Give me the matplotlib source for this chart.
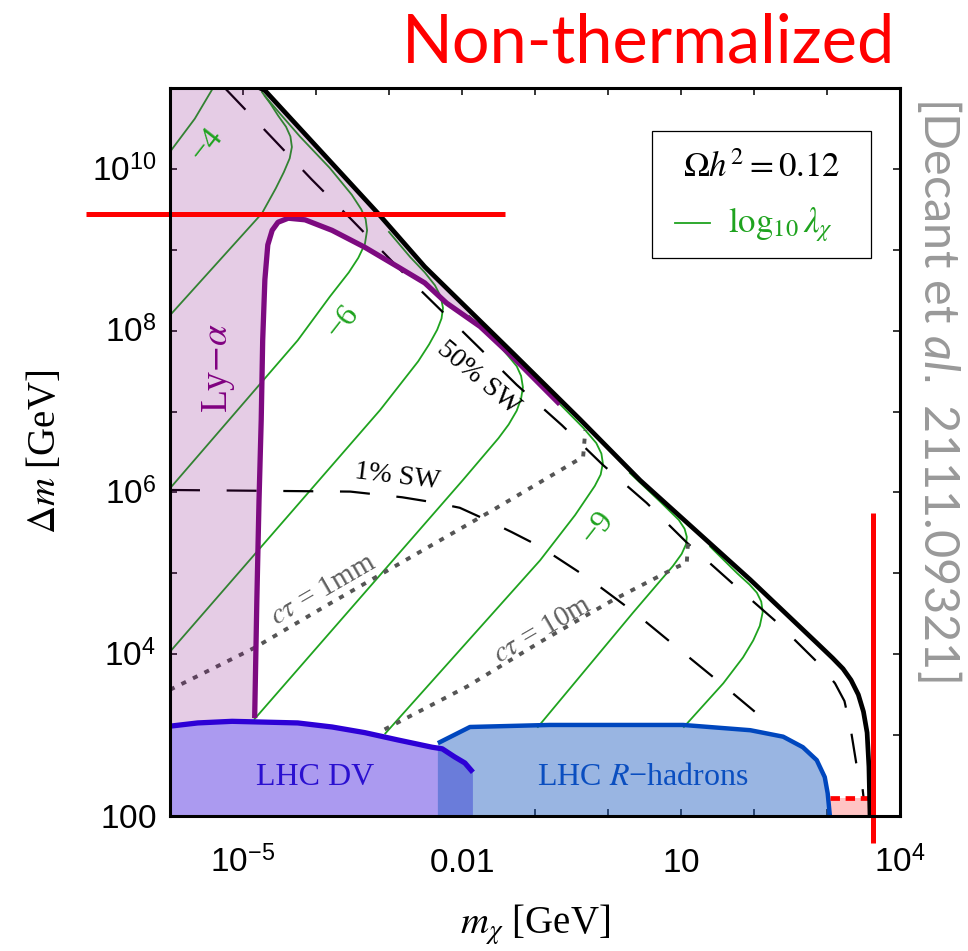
import numpy as np
import matplotlib
matplotlib.use("Agg")
import matplotlib.pyplot as plt
import matplotlib.transforms as mtransforms
from matplotlib.patches import Rectangle
from matplotlib.lines import Line2D

plt.rcParams["font.family"] = ["Liberation Serif", "DejaVu Serif"]
plt.rcParams["mathtext.fontset"] = "custom"
plt.rcParams["mathtext.rm"] = "Liberation Sans"
plt.rcParams["mathtext.sf"] = "Liberation Sans"
plt.rcParams["mathtext.it"] = "Lato:italic"
plt.rcParams["mathtext.bf"] = "Liberation Sans:bold"

# all curves as (log10 m_chi/GeV, log10 Delta m/GeV)
relic = [(-4.77, 11.0), (-4.70, 10.97), (-3.15, 9.45), (-2.51, 8.79), (-1.30, 7.72),
         (-0.38, 6.90), (0.44, 6.15), (1.95, 4.92), (2.86, 4.14), (3.08, 3.95),
         (3.22, 3.82), (3.33, 3.68), (3.43, 3.50), (3.50, 3.29), (3.55, 3.03),
         (3.575, 2.61), (3.59, 2.0)]

sw50 = [(-5.25, 11.0), (-4.88, 10.65), (-4.06, 9.87), (-3.51, 9.37), (-2.67, 8.59),
        (-1.80, 7.82), (-1.25, 7.33), (-0.63, 6.83), (-0.07, 6.34), (0.53, 5.87),
        (1.08, 5.38), (1.70, 4.88), (2.32, 4.39), (2.88, 3.89), (3.11, 3.64),
        (3.24, 3.42), (3.33, 3.05), (3.40, 2.66), (3.48, 2.40), (3.53, 2.0)]

sw1 = [(-6.0, 6.03), (-3.53, 6.01), (-2.82, 5.94), (-2.41, 5.88), (-2.03, 5.81),
       (-1.64, 5.65), (-1.32, 5.51), (-0.93, 5.33), (-0.27, 4.94), (0.37, 4.51),
       (0.99, 4.05), (1.60, 3.60), (2.01, 3.29)]

ctau_1mm = [(-6.0, 3.56), (-4.84, 4.08), (-3.84, 4.61), (-1.58, 5.78), (-0.34, 6.44), (-0.31, 6.77)]
ctau_10m = [(-3.06, 3.07), (-1.93, 3.60), (-0.93, 4.15), (0.07, 4.67), (0.95, 5.08), (1.08, 5.13), (1.10, 5.45)]

lya = [(-4.84, 3.21), (-4.81, 4.67), (-4.78, 5.91), (-4.75, 6.90), (-4.73, 7.88),
       (-4.70, 8.63), (-4.66, 9.06), (-4.60, 9.24), (-4.52, 9.34), (-4.38, 9.39),
       (-4.15, 9.37), (-3.78, 9.24), (-3.33, 9.03), (-2.88, 8.79), (-2.51, 8.59),
       (-2.21, 8.34), (-1.75, 8.05), (-1.30, 7.67), (-0.66, 7.09)]

lhc_dv = [(-6.0, 3.11), (-5.62, 3.15), (-5.15, 3.17), (-4.70, 3.16), (-4.25, 3.15),
          (-3.78, 3.10), (-3.33, 3.03), (-2.88, 2.94), (-2.41, 2.85), (-2.27, 2.83),
          (-2.10, 2.73), (-1.96, 2.655), (-1.85, 2.54)]

lhc_rh = [(-2.33, 2.90), (-1.89, 3.10), (-0.80, 3.125), (1.03, 3.125), (1.95, 3.06),
          (2.40, 2.98), (2.67, 2.85), (2.86, 2.69), (2.97, 2.48), (3.01, 2.28), (3.04, 2.0)]

# log10 lambda_chi contours
lam_m4 = [(-6.0, 10.21), (-5.66, 10.62), (-5.41, 11.0)]
lam_m5 = [(-6.0, 8.19), (-4.74, 9.45), (-4.55, 9.76), (-4.44, 9.96), (-4.36, 10.13),
          (-4.33, 10.27), (-4.35, 10.40), (-4.41, 10.52), (-4.52, 10.66), (-4.62, 10.80),
          (-4.74, 10.95)]
lam_m6 = [(-6.0, 6.05), (-4.25, 7.88), (-3.81, 8.42), (-3.55, 8.72), (-3.42, 8.90),
          (-3.33, 9.07), (-3.30, 9.24), (-3.32, 9.38), (-3.38, 9.50), (-3.51, 9.68),
          (-3.81, 10.01), (-4.22, 10.40), (-4.49, 10.68), (-4.70, 10.90)]
lam_m7 = [(-6.0, 4.03), (-3.12, 7.02), (-2.60, 7.62), (-2.45, 7.83), (-2.34, 8.01),
          (-2.28, 8.15), (-2.26, 8.28), (-2.29, 8.42), (-2.37, 8.56), (-2.51, 8.72),
          (-2.71, 8.91), (-3.0, 9.22)]
lam_m8 = [(-4.84, 3.20), (-1.99, 6.15), (-1.50, 6.67), (-1.36, 6.84), (-1.25, 7.01),
          (-1.19, 7.16), (-1.165, 7.30), (-1.19, 7.44), (-1.25, 7.56), (-1.36, 7.68),
          (-1.55, 7.88), (-1.90, 8.18)]
lam_m9 = [(-3.05, 3.02), (-0.93, 5.16), (-0.45, 5.72), (-0.30, 5.92), (-0.18, 6.08),
          (-0.10, 6.22), (-0.07, 6.36), (-0.09, 6.48), (-0.16, 6.61), (-0.34, 6.80),
          (-0.70, 7.13)]
lam_m10 = [(-0.96, 3.10), (0.34, 4.51), (0.70, 4.89), (0.89, 5.09), (1.01, 5.24),
           (1.07, 5.36), (1.08, 5.45), (1.05, 5.55), (0.97, 5.66), (0.71, 5.89),
           (0.30, 6.24)]
lam_m11 = [(1.04, 3.10), (1.58, 3.64), (1.85, 3.96), (1.99, 4.17), (2.08, 4.35),
           (2.12, 4.52), (2.10, 4.65), (2.04, 4.76), (1.94, 4.86), (1.77, 5.00),
           (1.40, 5.33)]

bbn_lx = [3.04, 3.59]
bbn_ly = 2.22
red_h_lx = [-7.15, -1.41]
red_h_ly = 9.44
red_v_lx = 3.63
red_v_ly = [1.67, 5.745]

xtick_pos = [-5, -2, 1, 4]
xtick_lab = [r"$10^{-5}$", r"$0.01$", r"$10$", r"$10^{4}$"]
ytick_pos = [2, 4, 6, 8, 10]
ytick_lab = [r"$100$", r"$10^{4}$", r"$10^{6}$", r"$10^{8}$", r"$10^{10}$"]


def lg(pts):
    a = np.array(pts, dtype=float)
    return 10 ** a[:, 0], 10 ** a[:, 1]


fig = plt.figure(figsize=(9.68, 9.51), dpi=100)
ax = fig.add_axes([0.1756, 0.1420, 0.7541, 0.7655])
ax.set_xscale("log")
ax.set_yscale("log")
ax.set_xlim(1e-6, 1e4)
ax.set_ylim(1e2, 1e11)

green = "#1fa31f"
for c in [lam_m4, lam_m5, lam_m6, lam_m7, lam_m8, lam_m9, lam_m10, lam_m11]:
    x, y = lg(c)
    ax.plot(x, y, color=green, lw=1.3, zorder=2, solid_joinstyle="round")

x, y = lg(sw50)
ax.plot(x, y, color="black", lw=1.6, dashes=(13.5, 12), zorder=2.5)
x, y = lg(sw1)
ax.plot(x, y, color="black", lw=1.6, dashes=(13.5, 12), zorder=2.5)
for c in [ctau_1mm, ctau_10m]:
    x, y = lg(c)
    ax.plot(x, y, color="#555555", lw=2.8, dashes=(1.3, 2.0), zorder=2.5)

# Ly-alpha excluded region
rx, ry = lg(relic)
lx_, ly_ = lg(lya)
keep = rx <= 10 ** -0.38
fx = np.concatenate([[1e-6, 1e-6], rx[keep], lx_[::-1], [lx_[0]]])
fy = np.concatenate([[1e2, 1e11], ry[keep], ly_[::-1], [1e2]])
ax.fill(fx, fy, color="#800080", alpha=0.2, lw=0, zorder=3)
ax.plot(lx_, ly_, color="#7d0a80", lw=3.8, zorder=4, solid_capstyle="butt")

# LHC regions
dx, dy = lg(lhc_dv)
ax.fill(np.concatenate([dx, [dx[-1], dx[0]]]), np.concatenate([dy, [1e2, 1e2]]),
        color="#ab9af0", lw=0, zorder=5)
hx, hy = lg(lhc_rh)
ax.fill(np.concatenate([[hx[0]], hx]), np.concatenate([[1e2], hy]),
        color="#1757bf", alpha=0.44, lw=0, zorder=5.1)
ax.plot(dx, dy, color="#2d00d6", lw=3.8, zorder=6, solid_capstyle="butt")
ax.plot(hx, hy, color="#0047be", lw=3.2, zorder=6, solid_capstyle="butt")

# relic boundary
ax.plot(rx, ry, color="black", lw=3.4, zorder=7)

# corner region and red lines
bx = 10.0 ** np.array(bbn_lx)
ax.fill_between(bx, 1e2, 10 ** bbn_ly, color="#ffc4c4", lw=0, zorder=5)
ax.plot(bx, [10 ** bbn_ly] * 2, color="red", lw=3.4, dashes=(2, 1.2), zorder=6)
ax.plot(10.0 ** np.array(red_h_lx), [10 ** red_h_ly] * 2, color="red", lw=3.6,
        clip_on=False, zorder=8, solid_capstyle="butt")
ax.plot([10 ** red_v_lx] * 2, 10.0 ** np.array(red_v_ly), color="red", lw=3.6,
        clip_on=False, zorder=8, solid_capstyle="butt")

# axes styling
for s in ax.spines.values():
    s.set_linewidth(2.2)
    s.set_zorder(10)
ax.set_xticks([10.0 ** k for k in range(-6, 5)])
ax.set_yticks([10.0 ** k for k in range(2, 12)])
ax.minorticks_off()
ax.tick_params(which="both", direction="in", top=True, right=True, length=5,
               width=1.1, labelbottom=False, labelleft=False)

xtr = mtransforms.blended_transform_factory(ax.transData, ax.transAxes)
for p, lab in zip(xtick_pos, xtick_lab):
    ax.text(10.0 ** p, -0.077, lab, transform=xtr, ha="center", va="baseline",
            fontsize=24, clip_on=False)
ytr = mtransforms.blended_transform_factory(ax.transAxes, ax.transData)
ytr = mtransforms.offset_copy(ytr, fig=fig, x=0, y=-8.5, units="points")
for p, lab in zip(ytick_pos, ytick_lab):
    ax.text(-0.019, 10.0 ** p, lab, transform=ytr, ha="right", va="baseline",
            fontsize=24, clip_on=False)

ax.set_xlabel(r"$m_{\chi}$ [GeV]", fontsize=28, math_fontfamily="stix", labelpad=62)
ax.set_ylabel(r"$\Delta m$ [GeV]", fontsize=28, math_fontfamily="stix", labelpad=76)

# labels on the plot
for lx0, ly0, t in [(-5.49, 10.29, "\u22124"), (-3.63, 8.11, "\u22126"), (-0.14, 5.56, "\u22129")]:
    ax.text(10 ** lx0, 10 ** ly0, t, color=green, fontsize=23, rotation=52,
            ha="center", va="center", zorder=9)
ax.text(10 ** -5.33, 10 ** 7.54, r"Ly$-\alpha$", color="#800080", fontsize=27,
        rotation=90, ha="center", va="center", math_fontfamily="stix", zorder=9)
ax.text(10 ** -1.78, 10 ** 7.41, "50% SW", fontsize=20, rotation=-40,
        ha="center", va="center", zorder=9)
ax.text(10 ** -2.88, 10 ** 6.19, "1% SW", fontsize=20, rotation=-7,
        ha="center", va="center", zorder=9)
ax.text(10 ** -3.90, 10 ** 4.79, r"$c\tau$ = 1mm", fontsize=21, rotation=30, color="#606060",
        ha="center", va="center", math_fontfamily="stix", zorder=9)
ax.text(10 ** -0.89, 10 ** 4.30, r"$c\tau$ = 10m", fontsize=21, rotation=30, color="#606060",
        ha="center", va="center", math_fontfamily="stix", zorder=9)
ax.text(10 ** -4.01, 10 ** 2.48, "LHC DV", fontsize=23, color="#2a10d0",
        ha="center", va="center", zorder=9)
ax.text(10 ** 0.48, 10 ** 2.48, "LHC $R$\u2212hadrons", fontsize=23, color="#0a4ec0",
        ha="center", va="center", math_fontfamily="stix", zorder=9)

# legend box
ax.add_patch(Rectangle((0.660, 0.7665), 0.300, 0.1745, transform=ax.transAxes,
                       facecolor="white", edgecolor="black", lw=0.9, zorder=9))
ax.text(0.811, 0.878, r"$\Omega h^2 = 0.12$", transform=ax.transAxes, fontsize=25,
        ha="center", va="baseline", math_fontfamily="stix", zorder=10)
ax.add_line(Line2D([0.692, 0.740], [0.8146, 0.8146], transform=ax.transAxes,
                   color=green, lw=1.3, zorder=10))
ax.text(0.764, 0.802, r"$\log_{10}\lambda_{\chi}$", transform=ax.transAxes, fontsize=25,
        color=green, ha="left", va="baseline", math_fontfamily="stix", zorder=10)

fig.text(0.9246, 0.9338, "Non-thermalized", color="red", fontsize=48,
         family=["Lato", "DejaVu Sans"], ha="right", va="baseline")
fig.text(0.971, 0.591, "[Decant et $al.$ 2111.09321]", color="#999999", fontsize=35,
         family=["Lato", "DejaVu Sans"], rotation=270, ha="center", va="center")

fig.savefig("out.png", dpi=100)
